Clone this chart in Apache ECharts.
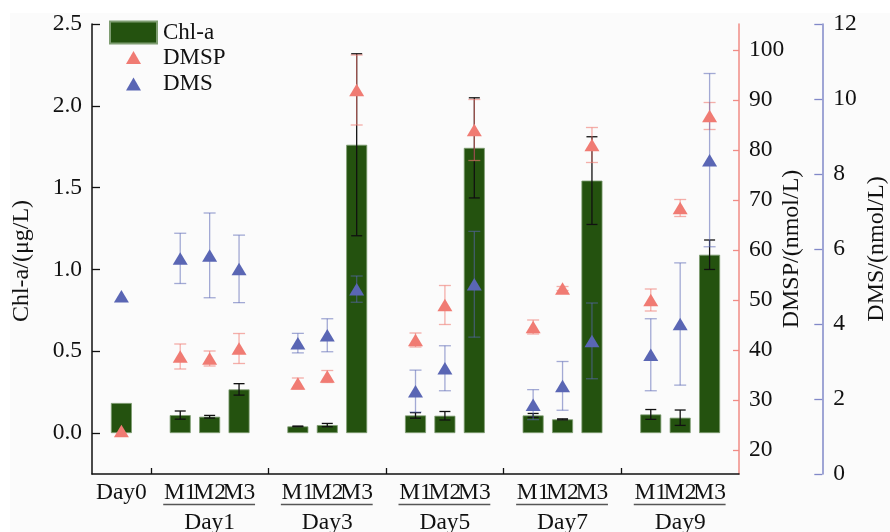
<!DOCTYPE html>
<html>
<head>
<meta charset="utf-8">
<script src="https://cdn.jsdelivr.net/npm/echarts@6/dist/echarts.min.js"></script>
<style>
  html, body { margin: 0; padding: 0; background: #ffffff; }
  #chart { width: 890px; height: 532px; }
</style>
</head>
<body>
<div id="chart"></div>
<script>
// Category slots along the x axis; empty strings are spacers between sampling days.
const xLabels = ['', 'Day0', '', 'M1', 'M2', 'M3', '', 'M1', 'M2', 'M3', '', 'M1', 'M2', 'M3',
                 '', 'M1', 'M2', 'M3', '', 'M1', 'M2', 'M3', ''];

// Day groups (slot index of first and last treatment in each group)
const groupNames = ['Day1', 'Day3', 'Day5', 'Day7', 'Day9'];
const groupStart = [3, 7, 11, 15, 19];
const groupEnd = [5, 9, 13, 17, 21];

// Chlorophyll-a (μg/L), mean and standard deviation
const chlA =    [null, 0.184, null, 0.110, 0.100, 0.267, null, 0.041, 0.049, 1.762, null, 0.108, 0.106, 1.743,
                 null, 0.108, 0.084, 1.543, null, 0.114, 0.094, 1.090, null];
const chlAErr = [null, null,  null, 0.025, 0.008, 0.035, null, 0.002, 0.010, 0.556, null, 0.017, 0.026, 0.306,
                 null, 0.012, 0.003, 0.268, null, 0.030, 0.047, 0.090, null];

// DMSP (nmol/L)
const dmsp =    [null, 23.8, null, 38.7, 38.3, 40.3, null, 33.3, 34.7, 92.0, null, 42.0, 49.0, 84.0,
                 null, 44.6, 52.3, 81.0, null, 50.0, 68.4, 86.8, null];
const dmspErr = [null, null, null, 2.5, 1.5, 3.0, null, 1.1, 1.2, 7.0, null, 1.4, 3.9, 6.1,
                 null, 1.4, 0.4, 3.5, null, 2.2, 1.7, 2.7, null];

// DMS (nmol/L)
const dms =     [null, 4.74, null, 5.75, 5.83, 5.47, null, 3.49, 3.70, 4.93, null, 2.21, 2.82, 5.06,
                 null, 1.85, 2.35, 3.55, null, 3.18, 4.00, 8.37, null];
const dmsErr =  [null, null, null, 0.67, 1.13, 0.90, null, 0.26, 0.44, 0.35, null, 0.56, 0.60, 1.41,
                 null, 0.40, 0.65, 1.01, null, 0.96, 1.63, 2.31, null];

// Tick values
const chlTicks = [0, 0.5, 1.0, 1.5, 2.0, 2.5];
const dmspTicks = [20, 30, 40, 50, 60, 70, 80, 90, 100];

const FONT = '"Liberation Serif", "Times New Roman", Times, serif';
const BAR_COLOR = '#24520f';
const DMSP_COLOR = '#f07b73';
const DMS_COLOR = '#5a66b4';
const CHL_MIN = -0.25;

// Secondary x-axis labels: day name under the middle treatment of each group
const dayAxisLabels = xLabels.map(() => '');
groupNames.forEach((n, k) => { dayAxisLabels[(groupStart[k] + groupEnd[k]) / 2] = n; });

function errData(vals, errs) {
  const out = [];
  vals.forEach((v, i) => { if (v != null && errs[i] != null) out.push([i, v, errs[i]]); });
  return out;
}

function errRenderer(color, halfCap, width) {
  return function (params, api) {
    const x = api.value(0), y = api.value(1), e = api.value(2);
    const hi = api.coord([x, y + e]);
    const lo = api.coord([x, y - e]);
    const st = { stroke: color, lineWidth: width };
    return {
      type: 'group',
      children: [
        { type: 'line', shape: { x1: hi[0], y1: hi[1], x2: lo[0], y2: lo[1] }, style: st },
        { type: 'line', shape: { x1: hi[0] - halfCap, y1: hi[1], x2: hi[0] + halfCap, y2: hi[1] }, style: st },
        { type: 'line', shape: { x1: lo[0] - halfCap, y1: lo[1], x2: lo[0] + halfCap, y2: lo[1] }, style: st }
      ]
    };
  };
}

const chart = echarts.init(document.getElementById('chart'), null, { renderer: 'canvas' });

const tickLabel = { fontFamily: FONT, fontSize: 23.5, color: '#111' };
const legendText = { fontFamily: FONT, fontSize: 23, color: '#111' };

chart.setOption({
  animation: false,
  backgroundColor: '#ffffff',
  graphic: [{
    type: 'rect', z: -10, silent: true,
    shape: { x: 10, y: 13, width: 880, height: 519 },
    style: { fill: '#fbfbfb' }
  }],
  grid: { left: 92, right: 151, top: 24, bottom: 58, containLabel: false, outerBoundsMode: 'none' },
  legend: [
    {
      data: ['Chl-a'], left: 109, top: 20.5, orient: 'vertical', padding: 0,
      icon: 'rect', itemWidth: 47, itemHeight: 22, symbolKeepAspect: false,
      textStyle: Object.assign({ padding: [0, 0, 0, 1] }, legendText)
    },
    {
      data: ['DMSP'], left: 126, top: 46, orient: 'vertical', padding: 0,
      icon: 'triangle', itemWidth: 15, itemHeight: 13, symbolKeepAspect: false,
      textStyle: Object.assign({ padding: [0, 0, 0, 17] }, legendText)
    },
    {
      data: ['DMS'], left: 126, top: 72.5, orient: 'vertical', padding: 0,
      icon: 'triangle', itemWidth: 15, itemHeight: 13, symbolKeepAspect: false,
      textStyle: Object.assign({ padding: [0, 0, 0, 17] }, legendText)
    }
  ],
  xAxis: [
    {
      type: 'category', data: xLabels, boundaryGap: false, position: 'bottom',
      axisLine: { show: true, onZero: false, lineStyle: { color: '#111', width: 1.5 } },
      axisTick: {
        show: true, inside: true, length: 6,
        interval: (i) => i > 0 && i < xLabels.length - 1 && xLabels[i] === '',
        lineStyle: { color: '#111', width: 1.3 }
      },
      axisLabel: Object.assign({ interval: 0, margin: 7 }, tickLabel),
      splitLine: { show: false }
    },
    {
      type: 'category', data: dayAxisLabels, boundaryGap: false, position: 'bottom', offset: 30,
      axisLine: { show: false }, axisTick: { show: false },
      axisLabel: Object.assign({ interval: 0, margin: 7 }, tickLabel),
      splitLine: { show: false }
    }
  ],
  yAxis: [
    {
      type: 'value', position: 'left', min: CHL_MIN, max: 2.5,
      name: 'Chl-a/(μg/L)', nameLocation: 'middle', nameGap: 58, nameMoveOverlap: false,
      nameTextStyle: { fontFamily: FONT, fontSize: 24, color: '#111', padding: [0, 24, 0, 0] },
      axisLine: { show: true, lineStyle: { color: '#111', width: 1.5 } },
      axisTick: { show: true, inside: true, length: 8, customValues: chlTicks, lineStyle: { color: '#111', width: 1.3 } },
      axisLabel: Object.assign({ margin: 10, customValues: chlTicks, formatter: (v) => v.toFixed(1) }, tickLabel),
      splitLine: { show: false }
    },
    {
      type: 'value', position: 'right', offset: 0, min: 15.2, max: 105.2,
      name: 'DMSP/(nmol/L)', nameLocation: 'middle', nameGap: 41, nameMoveOverlap: false,
      nameTextStyle: { fontFamily: FONT, fontSize: 24, color: '#111' },
      axisLine: { show: true, lineStyle: { color: '#f08c86', width: 1.5 } },
      axisTick: { show: true, inside: true, length: 6, customValues: dmspTicks, lineStyle: { color: '#f08c86', width: 1.3 } },
      axisLabel: Object.assign({ margin: 10, customValues: dmspTicks }, tickLabel),
      splitLine: { show: false }
    },
    {
      type: 'value', position: 'right', offset: 83.3, min: 0, max: 12, interval: 2,
      name: 'DMS/(nmol/L)', nameLocation: 'middle', nameGap: 42, nameMoveOverlap: false,
      nameTextStyle: { fontFamily: FONT, fontSize: 24, color: '#111' },
      axisLine: { show: true, lineStyle: { color: '#8188c8', width: 1.5 } },
      axisTick: { show: true, inside: true, length: 8, lineStyle: { color: '#8188c8', width: 1.3 } },
      axisLabel: Object.assign({ margin: 11 }, tickLabel),
      splitLine: { show: false }
    }
  ],
  series: [
    {
      name: 'Chl-a', type: 'bar', xAxisIndex: 0, yAxisIndex: 0, data: chlA, barWidth: 21, z: 2,
      itemStyle: { color: BAR_COLOR, borderColor: '#7f9d72', borderWidth: 0.8 }
    },
    {
      name: 'Chl-a SD', type: 'custom', xAxisIndex: 0, yAxisIndex: 0, z: 3, silent: true,
      data: errData(chlA, chlAErr), encode: { x: 0, y: 1 },
      renderItem: errRenderer('#111111', 5.5, 1.3)
    },
    {
      name: 'DMSP SD', type: 'custom', xAxisIndex: 0, yAxisIndex: 1, z: 4, silent: true,
      data: errData(dmsp, dmspErr), encode: { x: 0, y: 1 },
      renderItem: errRenderer('rgba(240,123,115,0.6)', 6, 1.3)
    },
    {
      name: 'DMS SD', type: 'custom', xAxisIndex: 0, yAxisIndex: 2, z: 4, silent: true,
      data: errData(dms, dmsErr), encode: { x: 0, y: 1 },
      renderItem: errRenderer('rgba(90,102,180,0.55)', 6, 1.3)
    },
    {
      name: 'DMSP', type: 'scatter', xAxisIndex: 0, yAxisIndex: 1, data: dmsp, z: 5,
      symbol: 'triangle', symbolSize: [15, 12.5], itemStyle: { color: DMSP_COLOR, opacity: 1 }
    },
    {
      name: 'DMS', type: 'scatter', xAxisIndex: 0, yAxisIndex: 2, data: dms, z: 6,
      symbol: 'triangle', symbolSize: [15, 12.5], itemStyle: { color: DMS_COLOR, opacity: 1 }
    },
    {
      // Underline beneath each group's treatment labels
      name: 'group underline', type: 'custom', xAxisIndex: 0, yAxisIndex: 0, z: 1, silent: true, clip: false,
      data: groupStart.map((s, k) => [s, groupEnd[k], CHL_MIN]),
      encode: { x: [0, 1], y: 2 },
      renderItem: function (params, api) {
        const a = api.coord([api.value(0), CHL_MIN]);
        const b = api.coord([api.value(1), CHL_MIN]);
        const y = a[1] + 30.5;
        return {
          type: 'line',
          shape: { x1: a[0] - 17, y1: y, x2: b[0] + 16, y2: y },
          style: { stroke: '#555555', lineWidth: 1.5 }
        };
      }
    }
  ]
});
</script>
</body>
</html>
